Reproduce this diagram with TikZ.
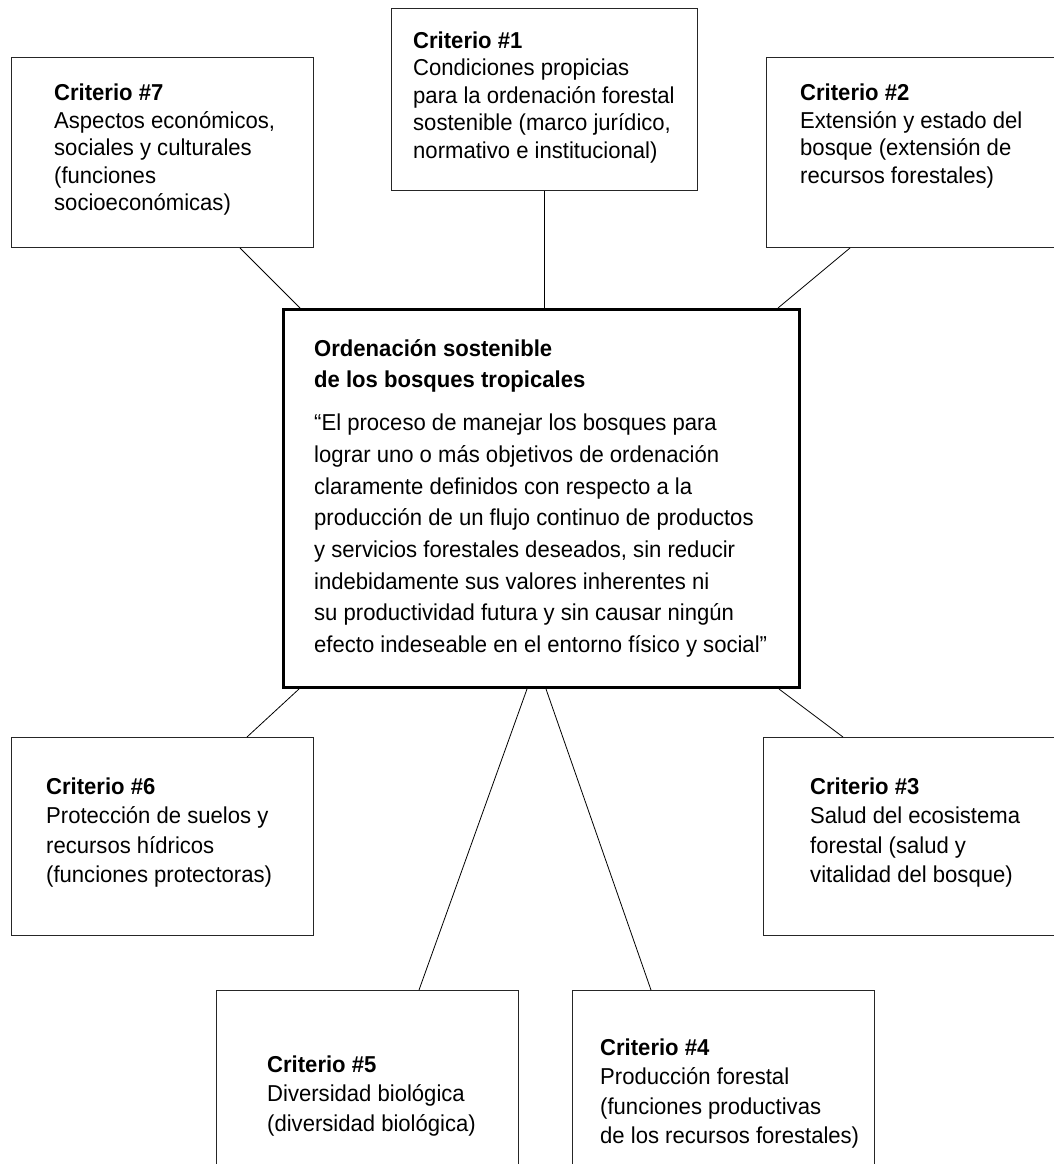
\documentclass[tikz,border=0pt]{standalone}
\usepackage{fontspec}
\setmainfont{Liberation Sans}[FakeStretch=0.96]
\begin{document}
\begin{tikzpicture}[x=1pt,y=-1pt,
  crit/.style={draw=black!85, line width=1pt, rectangle, inner sep=0pt, anchor=north west, minimum width=302pt},
  mainbox/.style={draw=black, line width=3pt, rectangle, inner sep=0pt, anchor=north west},
  link/.style={draw=black, line width=0.8pt},
  txt/.style={anchor=base west, inner sep=0pt, align=left, font=\fontsize{23}{27.5}\selectfont},
  btxt/.style={anchor=base west, inner sep=0pt, align=left, font=\fontsize{23}{29.5}\selectfont},
  ctxt/.style={anchor=base west, inner sep=0pt, align=left, font=\fontsize{23}{31.7}\selectfont}]
\useasboundingbox (0,0) rectangle (1054,1164);
\fill[white] (0,0) rectangle (1054,1164);
\begin{scope}
\clip (0,0) rectangle (1054,1164);
\node[crit, minimum height=190pt] (c7) at (11,57) {};
\node[crit, minimum width=306pt, minimum height=182pt] (c1) at (391,8) {};
\node[crit, minimum height=190pt] (c2) at (766,57) {};
\node[mainbox, minimum width=516pt, minimum height=378pt] (main) at (282,308) {};
\node[crit, minimum height=198pt] (c6) at (11,737) {};
\node[crit, minimum height=198pt] (c3) at (763,737) {};
\node[crit, minimum height=230pt] (c5) at (216,990) {};
\node[crit, minimum height=230pt] (c4) at (572,990) {};
\end{scope}

% base anchor = baseline of the last line
\node[txt] (t7) at (54,210.5) {\textbf{Criterio \#7}\\Aspectos económicos,\\sociales y culturales\\(funciones\\socioeconómicas)};
\node[txt] (t1) at (413,158) {\textbf{Criterio \#1}\\Condiciones propicias\\para la ordenación forestal\\sostenible (marco jurídico,\\normativo e institucional)};
\node[txt] (t2) at (800,183) {\textbf{Criterio \#2}\\Extensión y estado del\\bosque (extensión de\\recursos forestales)};
\node[ctxt] (th) at (314,387.7) {\textbf{Ordenación sostenible}\\\textbf{de los bosques tropicales}};
\node[ctxt] (tb) at (314,652.6) {“El proceso de manejar los bosques para\\lograr uno o más objetivos de ordenación\\claramente definidos con respecto a la\\producción de un flujo continuo de productos\\y servicios forestales deseados, sin reducir\\indebidamente sus valores inherentes ni\\su productividad futura y sin causar ningún\\efecto indeseable en el entorno físico y social”};
\node[btxt] (t6) at (46,882.5) {\textbf{Criterio \#6}\\Protección de suelos y\\recursos hídricos\\(funciones protectoras)};
\node[btxt] (t3) at (810,882.5) {\textbf{Criterio \#3}\\Salud del ecosistema\\forestal (salud y\\vitalidad del bosque)};
\node[btxt] (t5) at (267,1131) {\textbf{Criterio \#5}\\Diversidad biológica\\(diversidad biológica)};
\node[btxt] (t4) at (600,1143.5) {\textbf{Criterio \#4}\\Producción forestal\\(funciones productivas\\de los recursos forestales)};

\draw[link] ([xshift=229pt]c7.south west) -- ([xshift=18pt]main.north west);
\draw[link] ([xshift=153pt]c1.south west) -- ([xshift=262pt]main.north west);
\draw[link] ([xshift=84pt]c2.south west) -- ([xshift=496pt]main.north west);
\draw[link] ([xshift=17pt]main.south west) -- ([xshift=236pt]c6.north west);
\draw[link] ([xshift=497pt]main.south west) -- ([xshift=80pt]c3.north west);
\draw[link] ([xshift=245pt]main.south west) -- ([xshift=203pt]c5.north west);
\draw[link] ([xshift=264pt]main.south west) -- ([xshift=79pt]c4.north west);
\end{tikzpicture}
\end{document}
